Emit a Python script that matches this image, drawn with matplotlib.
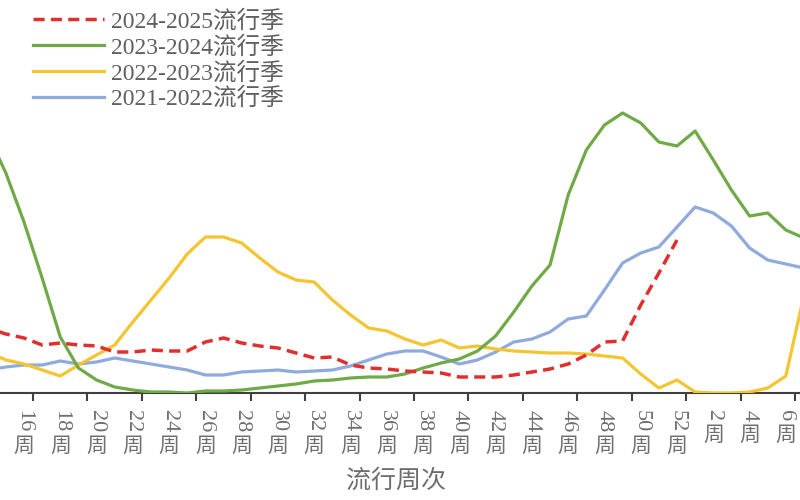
import matplotlib
matplotlib.use("Agg")
import matplotlib.pyplot as plt
import numpy as np

# Weeks shown on the category axis (season runs from week 14 to week 7 of next year)
weeks = list(range(14, 53)) + list(range(1, 8))

# Series values (arbitrary units)
s2024_2025 = [13.0, 11.8, 11.0, 9.6, 10.0, 9.6, 9.4, 8.2, 8.2, 8.6, 8.4, 8.4, 10.2, 11.0,
              10.0, 9.4, 9.0, 8.0, 7.0, 7.2, 5.6, 5.0, 4.8, 4.4, 4.2, 4.0, 3.2, 3.2, 3.2,
              3.6, 4.2, 4.8, 5.8, 7.6, 10.2, 10.4, 17.6, 24.0, 30.6]
s2023_2024 = [51.8, 44.0, 34.2, 23.0, 11.2, 5.0, 2.6, 1.2, 0.6, 0.2, 0.2, 0.0, 0.4, 0.4,
              0.6, 1.0, 1.4, 1.8, 2.4, 2.6, 3.0, 3.2, 3.2, 3.8, 5.0, 6.0, 6.8, 8.4, 11.4,
              16.2, 21.4, 25.6, 39.6, 48.6, 53.6, 56.0, 54.0, 50.2, 49.4, 52.4, 46.6, 40.6,
              35.4, 36.0, 32.6, 31.0]
s2022_2023 = [8.2, 6.6, 5.8, 4.6, 3.4, 5.6, 7.6, 9.6, 14.2, 18.6, 23.0, 27.8, 31.2, 31.2,
              30.0, 27.0, 24.2, 22.6, 22.2, 18.6, 15.6, 13.0, 12.4, 10.8, 9.6, 10.6, 9.0,
              9.4, 8.8, 8.4, 8.2, 8.0, 8.0, 7.8, 7.4, 7.0, 3.8, 1.0, 2.6, 0.2, 0.0, 0.0,
              0.2, 1.0, 3.4, 19.6]
s2021_2022 = [4.6, 5.2, 5.6, 5.6, 6.4, 5.8, 6.2, 7.0, 6.4, 5.8, 5.2, 4.6, 3.6, 3.6, 4.2,
              4.4, 4.6, 4.2, 4.4, 4.6, 5.4, 6.6, 7.8, 8.4, 8.4, 7.2, 5.8, 6.6, 8.2, 10.2,
              10.8, 12.2, 14.8, 15.4, 20.6, 26.0, 28.0, 29.2, 33.2, 37.2, 36.0, 33.4, 29.0,
              26.6, 25.8, 25.0]

series_labels = ["2024-2025流行季", "2023-2024流行季", "2022-2023流行季", "2021-2022流行季"]
x_title = "流行周次"
week_suffix = "周"

cjk = ["Liberation Serif", "Noto Sans CJK SC", "DejaVu Sans"]
plt.rcParams["font.family"] = cjk

fig = plt.figure(figsize=(8, 5), dpi=100)
ax = fig.add_axes([0, 107 / 500, 1, 393 / 500])

idx = np.arange(len(weeks))

lw = 2.3
ax.plot(idx, s2021_2022, color="#8FAADC", lw=lw, label=series_labels[3], zorder=2)
ax.plot(idx, s2022_2023, color="#F5C431", lw=lw, label=series_labels[2], zorder=3)
ax.plot(idx, s2023_2024, color="#6FAA47", lw=lw, label=series_labels[1], zorder=4)
ax.plot(idx[:len(s2024_2025)], s2024_2025, color="#E0302E", lw=2.5,
        dashes=(3.2, 1.8), label=series_labels[0], zorder=5)

ax.set_xlim(0.677, 44.78)
ax.set_ylim(0, 393 / 5)

for s in ["top", "left", "right"]:
    ax.spines[s].set_visible(False)
ax.spines["bottom"].set_color("#404040")
ax.spines["bottom"].set_linewidth(1.5)
ax.set_yticks([])

ax.set_xticks(np.arange(2.5, 46, 3))
ax.tick_params(axis="x", direction="out", length=6, width=1.5, color="#404040",
               labelbottom=False)

label_color = "#6e6e6e"
fs = 16
for i, w in enumerate(weeks):
    if i % 2 != 0 or i == 0:
        continue
    num = str(w)
    ax.annotate(num, xy=(i, 0), xycoords=("data", "axes fraction"),
                xytext=(0, -12.2), textcoords="offset points", rotation=-90,
                ha="center", va="top", fontsize=fs, color=label_color,
                family="Liberation Serif", annotation_clip=False)
    off = 12.2 + len(num) * fs * 0.5 + 2
    ax.annotate(week_suffix, xy=(i, 0), xycoords=("data", "axes fraction"),
                xytext=(0, -off), textcoords="offset points",
                ha="center", va="top", fontsize=fs - 1, color=label_color,
                family="Noto Sans CJK SC", annotation_clip=False)

fig.text(0.495, 1 - 481 / 500, x_title, ha="center", va="center", fontsize=18,
         color=label_color, family="Noto Sans CJK SC")

handles, labels = ax.get_legend_handles_labels()
order = [3, 2, 1, 0]
leg = fig.legend([handles[k] for k in order], [labels[k] for k in order],
                 loc="upper left", bbox_to_anchor=(33 / 800, 1 - 10 / 500),
                 frameon=False, fontsize=17, handlelength=3.0, handletextpad=0.3,
                 labelspacing=0.135, borderpad=0, borderaxespad=0)
for t in leg.get_texts():
    t.set_color("#5f5f5f")

fig.savefig("out.png", dpi=100)
